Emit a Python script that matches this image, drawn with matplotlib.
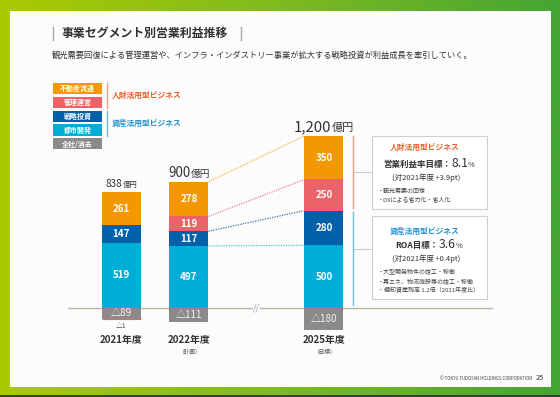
import matplotlib
matplotlib.use('Agg')
import matplotlib.pyplot as plt
import numpy as np
from matplotlib.patches import Rectangle
from matplotlib.colors import LinearSegmentedColormap
from matplotlib.transforms import offset_copy

plt.rcParams['font.family'] = ['Noto Sans CJK JP', 'DejaVu Sans']

# == データ ==
years = ['2021年度', '2022年度', '2025年度']
notes = ['', '（計画）', '（目標）']
xpos = [0, 1, 3]
toshi = [519, 497, 500]       # 都市開発
senryaku = [147, 117, 280]    # 戦略投資
kanri = [-1, 119, 250]        # 管理運営
fudosan = [261, 278, 350]     # 不動産流通
zensha = [-89, -111, -180]    # 全社/消去
totals = ['838', '900', '1,200']

legend_names = ['不動産流通', '管理運営', '戦略投資', '都市開発', '全社/消去']

title = '事業セグメント別営業利益推移'
subtitle = '観光需要回復による管理運営や、インフラ・インダストリー事業が拡大する戦略投資が利益成長を牽引していく。'

# == スタイル ==
C_OR = '#F39800'
C_RD = '#EB6268'
C_NV = '#0060AA'
C_CY = '#00ADD6'
C_GR = '#8A8A8A'
C_HUM = '#E8602C'
C_AST = '#2391D0'
TXT = '#333333'

W, H = 560, 397
# 1単位あたりのピクセル (参照画像から)
X0, SX = 121.5, 67.5
Y0, SY = 307.7, 0.1245
BW = 39 / SX

fig = plt.figure(figsize=(W / 100, H / 100), dpi=100)
renderer = fig.canvas.get_renderer()

# == 背景 ==
bg = fig.add_axes([0, 0, 1, 1])
bg.set_xlim(0, W)
bg.set_ylim(H, 0)
bg.axis('off')
cmap = LinearSegmentedColormap.from_list('g', ['#abca00', '#7fbb1e', '#45a535'])
bg.imshow(np.linspace(0, 1, 256).reshape(1, -1), cmap=cmap, extent=(0, W, H, 0), aspect='auto', zorder=0)
bg.add_patch(Rectangle((9.5, 11), 541.5, 376, fc='#fcfcfc', ec='none', zorder=1))
bg.add_patch(Rectangle((0, 395), W, 2, fc='#34403a', ec='none', zorder=1))


def mixed(ax, x, y, parts, ha='center', transform=None):
    # 大きさの違う文字をベースラインで並べる
    tr = transform if transform is not None else ax.transData
    texts = []
    for s, size, kw in parts:
        t = ax.text(x, y, s, fontsize=size, ha='left', va='baseline', transform=tr, zorder=6, **kw)
        texts.append(t)
    widths = [t.get_window_extent(renderer).width for t in texts]
    start = -sum(widths) / 2 if ha == 'center' else 0
    for t, w in zip(texts, widths):
        t.set_transform(offset_copy(tr, fig, x=start, y=0, units='dots'))
        start += w
    return texts


# タイトル
bg.plot([53, 53], [27, 40], color='#aaaaaa', lw=1, zorder=2)
bg.plot([241, 241], [27, 40], color='#aaaaaa', lw=1, zorder=2)
bg.text(62, 33.5, title, fontsize=8.6, fontweight='bold', color=TXT, va='center', zorder=2)
bg.text(52, 55, subtitle, fontsize=5.95, color=TXT, va='center', zorder=2)

# 凡例
leg_cols = [C_OR, C_RD, C_NV, C_CY, C_GR]
for i, (name, col) in enumerate(zip(legend_names, leg_cols)):
    y = 83 + 13.8 * i
    bg.add_patch(Rectangle((53, y), 49, 11.2, fc=col, ec='none', zorder=2))
    bg.text(77.5, y + 5.8, name, fontsize=5.0, fontweight='bold', color='white',
            ha='center', va='center', zorder=3)
bg.plot([107, 107], [83, 108], color='#F2A07A', lw=1, zorder=2)
bg.plot([107, 107], [111, 136], color='#72B8E0', lw=1, zorder=2)
bg.text(112, 95.5, '人財活用型ビジネス', fontsize=5.6, fontweight='bold', color=C_HUM, va='center', zorder=2)
bg.text(112, 123.5, '資産活用型ビジネス', fontsize=5.6, fontweight='bold', color=C_AST, va='center', zorder=2)

# 右側のボックス
for (y0, y1) in [(136, 209), (216, 299)]:
    bg.add_patch(Rectangle((372, y0), 115, y1 - y0, fc='white', ec='#cfcfcf', lw=0.8, zorder=2))
bg.plot([353, 372], [172, 172], color='#cccccc', lw=0.8, zorder=2)
bg.plot([353, 372], [249, 249], color='#cccccc', lw=0.8, zorder=2)

bg.text(425, 147, '人財活用型ビジネス', fontsize=5.6, fontweight='bold', color=C_HUM, ha='center', va='center', zorder=3)
mixed(bg, 429, 167, [('営業利益率目標：', 6.1, dict(color=TXT, fontweight='bold')),
                     ('8.1', 8.8, dict(color=TXT)),
                     ('%', 5.4, dict(color=TXT))])
bg.text(426, 177.5, '(対2021年度 +3.9pt)', fontsize=5.4, color=TXT, ha='center', va='center', zorder=3)
for i, s in enumerate(['・観光需要の回復', '・DXによる省力化・省人化']):
    bg.text(378, 191 + 8.5 * i, s, fontsize=4.3, color='#444444', va='center', zorder=3)

bg.text(425, 231, '資産活用型ビジネス', fontsize=5.6, fontweight='bold', color=C_AST, ha='center', va='center', zorder=3)
mixed(bg, 429, 248, [('ROA目標：', 6.1, dict(color=TXT, fontweight='bold')),
                     ('3.6', 8.8, dict(color=TXT)),
                     ('%', 5.4, dict(color=TXT))])
bg.text(426, 259, '(対2021年度 +0.4pt)', fontsize=5.4, color=TXT, ha='center', va='center', zorder=3)
for i, s in enumerate(['・大型開発物件の竣工・稼働', '・再エネ、物流施設等の竣工・稼働',
                       '・棚卸資産残高 1.2倍（2021年度比）']):
    bg.text(378, 272 + 9 * i, s, fontsize=4.3, color='#444444', va='center', zorder=3)

# フッター
bg.text(532, 379, '© TOKYU FUDOSAN HOLDINGS CORPORATION', fontsize=3.1, color='#444444',
        ha='right', va='center', zorder=3)
bg.text(540, 378.5, '25', fontsize=5.3, color=TXT, ha='center', va='center', zorder=3)

# == グラフ ==
ax = fig.add_axes([60 / W, 1 - 360 / H, 440 / W, 250 / H])
ax.set_xlim((60 - X0) / SX, (500 - X0) / SX)
ax.set_ylim((Y0 - 360) / SY, (Y0 - 110) / SY)
ax.axis('off')
ax.patch.set_alpha(0)

# 基準線
ax.plot([(68 - X0) / SX, (492 - X0) / SX], [0, 0], color='#b8b6a2', lw=1, zorder=1)
ax.text(2, 0, '//', fontsize=6.5, color='#999999', ha='center', va='center', style='italic',
        bbox=dict(fc='#fcfcfc', ec='none', pad=0.3), zorder=2)

x = np.array(xpos, dtype=float)
pos_b = np.zeros(3)
neg_b = np.zeros(3)

z = np.array(zensha, dtype=float)
ax.bar(x, z, BW, bottom=0, color=C_GR, lw=0, zorder=3)
for xi, v in zip(x, z):
    ax.text(xi, v / 2, '△' + str(int(-v)), fontsize=7.2, color='#f2f2f2', ha='center', va='center', zorder=5)
neg_b += z

layers = [(toshi, C_CY), (senryaku, C_NV), (kanri, C_RD), (fudosan, C_OR)]
tops = []
for vals, col in layers:
    v = np.array(vals, dtype=float)
    pos = v >= 0
    b = np.where(pos, pos_b, neg_b)
    ax.bar(x[pos], v[pos], BW, bottom=b[pos], color=col, lw=0, zorder=3)
    if (~pos).any():
        ax.bar(x[~pos], v[~pos], BW, bottom=b[~pos], color=col, ec=col, lw=0.8, zorder=3)
    for xi, vi, bi, p in zip(x, v, b, pos):
        if p:
            ax.text(xi, bi + vi / 2, str(int(vi)), fontsize=7.1, fontweight='bold', color='white',
                    ha='center', va='center', zorder=5)
        else:
            ax.annotate('△' + str(int(-vi)), (xi, bi + vi), xytext=(0, -2.5), textcoords='offset points',
                        fontsize=4.9, color='#555555', ha='center', va='top', zorder=5)
    pos_b = pos_b + np.where(pos, v, 0)
    neg_b = neg_b + np.where(pos, 0, v)
    tops.append(pos_b.copy())

# 2022 → 2025 の点線
line_cols = ['#4cc3e3', '#3a72b8', '#ef7f86', '#f6b042']
for top, col in zip(tops, line_cols):
    ax.plot([x[1] + BW / 2, x[2] - BW / 2], [top[1], top[2]], color=col, lw=0.9,
            ls=(0, (1, 1)), zorder=2)

# 2025 右側の括弧線
bx = x[2] + (353 - 324) / SX
ax.plot([bx, bx], [tops[1][2] + 20, tops[3][2]], color='#F2A07A', lw=1, zorder=2)
ax.plot([bx, bx], [20, tops[1][2] - 10], color='#72B8E0', lw=1, zorder=2)

# 合計ラベル
total_sizes = [(7.2, 5.3), (9.6, 7.0), (10.8, 8.0)]
for xi, top, t, (s1, s2) in zip(x, pos_b, totals, total_sizes):
    y = top + 5 / SY
    mixed(ax, xi, y, [(t, s1, dict(color=TXT)), ('億円', s2, dict(color=TXT))])

# 年度ラベル
for xi, yr, nt in zip(x, years, notes):
    ax.text(xi, (Y0 - 340) / SY, yr, fontsize=7.1, fontweight='bold', color=TXT, ha='center', va='center')
    if nt:
        ax.text(xi, (Y0 - 351.5) / SY, nt, fontsize=4.1, color='#555555', ha='center', va='center')

fig.savefig('out.png', dpi=100)
